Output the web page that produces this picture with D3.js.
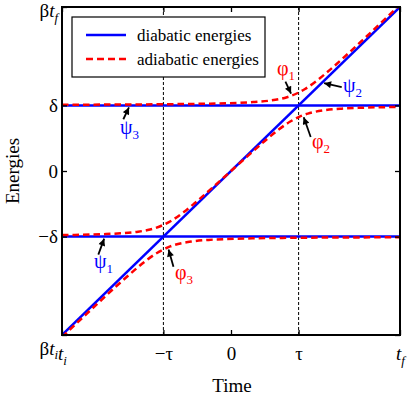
<!DOCTYPE html>
<html><head><meta charset="utf-8">
<script src="https://cdn.jsdelivr.net/npm/d3@7"></script>
<style>body{margin:0;background:#fff}text{font-family:"Liberation Serif","Times New Roman",serif}</style>
</head><body><svg id="c" width="409" height="395"></svg>
<script>
// ---- data (time in units of t_f, energy in units of beta*t_f) ----
const timeTicks = [-1, -0.4, 0, 0.4, 1];
const timeTickLabels = ["t_i", "−τ", "0", "τ", "t_f"];
const energyTicks = [-1, -0.4, 0, 0.4, 1];
const energyTickLabels = ["βt_i", "−δ", "0", "δ", "βt_f"];
const tauMarks = [-0.4, 0.4];

const diabaticTimes = [-1, 1];
const psi1 = [-0.4, -0.4];
const psi2 = [-1, 1];
const psi3 = [0.4, 0.4];

const phi1Times = [-1.0, -0.727, -0.404, -0.159, 0.033, 0.132, 0.236, 0.293, 0.331, 0.360, 0.403, 0.438, 0.507, 0.566, 0.676, 0.781, 0.884, 1.0];
const phi1 = [0.404, 0.405, 0.407, 0.41, 0.415, 0.42, 0.43, 0.44, 0.45, 0.46, 0.48, 0.5, 0.55, 0.6, 0.7, 0.8, 0.9, 1.013];

const phi2Times = [-1.0, -0.945, -0.753, -0.654, -0.550, -0.493, -0.455, -0.403, -0.348, -0.279, -0.219, -0.108, 0, 0.108, 0.219, 0.279, 0.348, 0.403, 0.455, 0.493, 0.550, 0.654, 0.753, 0.945, 1.0];
const phi2 = [-0.391, -0.39, -0.385, -0.38, -0.37, -0.36, -0.35, -0.33, -0.3, -0.25, -0.2, -0.1, 0, 0.1, 0.2, 0.25, 0.3, 0.33, 0.35, 0.36, 0.37, 0.38, 0.385, 0.39, 0.391];

const phi3Times = [-1.0, -0.884, -0.781, -0.676, -0.566, -0.507, -0.438, -0.403, -0.360, -0.331, -0.293, -0.236, -0.132, -0.033, 0.159, 0.404, 0.727, 1.0];
const phi3 = [-1.013, -0.9, -0.8, -0.7, -0.6, -0.55, -0.5, -0.48, -0.46, -0.45, -0.44, -0.43, -0.42, -0.415, -0.41, -0.407, -0.405, -0.404];

const seriesNames = ["diabatic energies", "adiabatic energies"];

const annNames = ["ψ", "ψ", "ψ", "φ", "φ", "φ"];
const annSubs = ["1", "2", "3", "1", "2", "3"];
const annTipTimes = [-0.746, 0.538, -0.598, 0.361, 0.426, -0.373];
const annTipEnergies = [-0.4, 0.538, 0.4, 0.46, 0.34, -0.466];

// ---- layout ----
const BLUE = "#0000ff", RED = "#ff0000";
const annKinds = ["d", "d", "d", "a", "a", "a"];
const annTail = [[-6, 16.4], [18, 4], [-6, 12.6], [-6, -12.6], [7, 19.8], [5, 17.6]];
const annLabelOff = [[-11, 31], [21, 9], [-10, 29], [-15, -21], [9, 33], [7, 32]];

const svg = d3.select("#c");
const L = 62, R = 400, T = 7, B = 335;
const x = d3.scaleLinear([-1, 1], [L, R]);
const y = d3.scaleLinear([-1, 1], [B, T]);

svg.append("defs").html(
  `<clipPath id="clip"><rect x="${L}" y="${T}" width="${R - L}" height="${B - T}"/></clipPath>
   <marker id="ah" viewBox="0 0 10 10" refX="10" refY="5" markerWidth="9" markerHeight="7" markerUnits="userSpaceOnUse" orient="auto"><path d="M0,0L10,5L0,10z" fill="#000"/></marker>`);

function rich(sel, label, italicSub) {
  sel.text(null);
  const [main, sub] = label.split("_");
  for (const ch of main) {
    const ts = sel.append("tspan").text(ch);
    if (/[a-z]/.test(ch)) ts.attr("font-style", "italic");
  }
  if (sub) {
    const ts = sel.append("tspan").text(sub).attr("font-size", "0.68em").attr("dy", "0.38em");
    if (italicSub) ts.attr("font-style", "italic");
  }
}

// vertical dashed lines
svg.append("g").selectAll("line").data(tauMarks).join("line")
  .attr("x1", d => x(d)).attr("x2", d => x(d)).attr("y1", T).attr("y2", B)
  .attr("stroke", "#000").attr("stroke-width", 1).attr("stroke-dasharray", "3,2");

const plot = svg.append("g").attr("clip-path", "url(#clip)");
const line = d3.line().x(d => x(d[0])).y(d => y(d[1])).curve(d3.curveMonotoneX);

[psi1, psi2, psi3].forEach(s => {
  plot.append("path").datum(diabaticTimes.map((t, i) => [t, s[i]]))
    .attr("d", line).attr("fill", "none").attr("stroke", BLUE).attr("stroke-width", 2.5);
});
[[phi1Times, phi1], [phi2Times, phi2], [phi3Times, phi3]].forEach(([ts, s]) => {
  plot.append("path").datum(ts.map((t, i) => [t, s[i]]))
    .attr("d", line).attr("fill", "none").attr("stroke", RED).attr("stroke-width", 2.5)
    .attr("stroke-dasharray", "6.5,4");
});

// axes
const fs = 19;
const gB = svg.append("g").attr("transform", `translate(0,${B})`)
  .call(d3.axisBottom(x).tickValues(timeTicks).tickSize(-5).tickPadding(11.5));
gB.selectAll("text").each(function (d, i) { rich(d3.select(this), timeTickLabels[i], true); });
const gL = svg.append("g").attr("transform", `translate(${L},0)`)
  .call(d3.axisLeft(y).tickValues(energyTicks).tickSize(-5).tickPadding(4));
gL.selectAll("text").each(function (d, i) {
  rich(d3.select(this), energyTickLabels[i], true);
  if (i === 0) d3.select(this).attr("dy", "1.0em");
  if (i === energyTicks.length - 1) d3.select(this).attr("dy", "0.52em");
});
svg.append("g").attr("transform", `translate(0,${T})`)
  .call(d3.axisTop(x).tickValues(timeTicks).tickSize(-5).tickFormat(""));
svg.append("g").attr("transform", `translate(${R},0)`)
  .call(d3.axisRight(y).tickValues(energyTicks).tickSize(-5).tickFormat(""));
svg.selectAll(".domain").remove();
svg.selectAll(".tick line").attr("stroke", "#000").attr("stroke-width", 1.3);
svg.selectAll(".tick text").attr("font-size", fs).attr("fill", "#000")
  .style("font-family", '"Liberation Serif","Times New Roman",serif');

// frame
svg.append("rect").attr("x", L).attr("y", T).attr("width", R - L).attr("height", B - T)
  .attr("fill", "none").attr("stroke", "#000").attr("stroke-width", 2);

// axis titles
svg.append("text").attr("x", (L + R) / 2 + 1).attr("y", 392).attr("text-anchor", "middle")
  .attr("font-size", fs).text("Time");
svg.append("text").attr("transform", `translate(19,${(T + B) / 2}) rotate(-90)`)
  .attr("text-anchor", "middle").attr("font-size", fs).text("Energies");

// legend
const lg = svg.append("g");
lg.append("rect").attr("x", 72).attr("y", 17).attr("width", 193).attr("height", 60)
  .attr("fill", "#fff").attr("stroke", "#000").attr("stroke-width", 1.2);
seriesNames.forEach((n, i) => {
  const yy = 35 + i * 24;
  lg.append("line").attr("x1", 86).attr("x2", 126).attr("y1", yy).attr("y2", yy)
    .attr("stroke", i ? RED : BLUE).attr("stroke-width", 2.5)
    .attr("stroke-dasharray", i ? "7,4" : null);
  lg.append("text").attr("x", 137).attr("y", yy + 6).attr("font-size", 17).text(n);
});

// annotations
annNames.forEach((n, i) => {
  const px = x(annTipTimes[i]), py = y(annTipEnergies[i]);
  const [tx, ty] = annTail[i];
  const len = Math.hypot(tx, ty);
  const ex = px + tx / len * 2.2, ey = py + ty / len * 2.2;
  svg.append("line").attr("x1", px + tx * 1.1).attr("y1", py + ty * 1.1).attr("x2", ex).attr("y2", ey)
    .attr("stroke", "#000").attr("stroke-width", 1.8).attr("marker-end", "url(#ah)");
  const t = svg.append("text").attr("x", px + annLabelOff[i][0]).attr("y", py + annLabelOff[i][1])
    .attr("font-size", 20).attr("fill", annKinds[i] === "d" ? BLUE : RED);
  t.append("tspan").text(n);
  t.append("tspan").text(annSubs[i]).attr("font-size", 13).attr("dy", 5);
});
</script></body></html>
